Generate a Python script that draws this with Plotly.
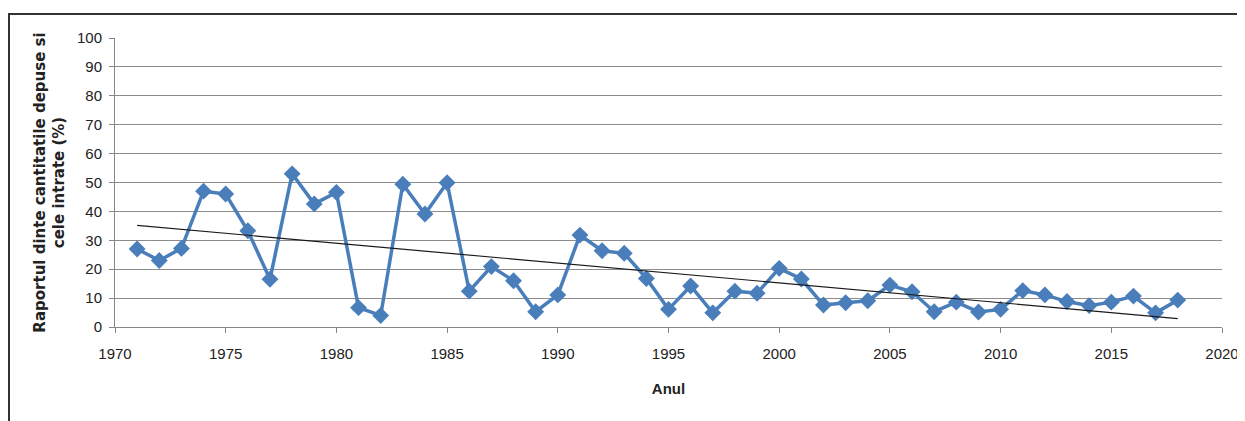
import numpy as np
import plotly.graph_objects as go

years = list(range(1971, 2019))
values = [27, 23, 27.2, 47, 46, 33.3, 16.5, 53, 42.6, 46.6, 6.7, 4,
          49.4, 39.1, 49.9, 12.4, 20.9, 16, 5.3, 11.1, 31.8, 26.4, 25.5, 16.8,
          6.1, 14.2, 4.9, 12.4, 11.7, 20.3, 16.6, 7.6, 8.4, 9.1, 14.5, 12.2,
          5.3, 8.6, 5.2, 6.1, 12.6, 11.1, 8.8, 7.4, 8.6, 10.7, 4.9, 9.3]

x_ticks = list(range(1970, 2021, 5))
y_ticks = list(range(0, 101, 10))

# Linear trendline computed from the series
slope, intercept = np.polyfit(years, values, 1)
trend_x = [years[0], years[-1]]
trend_y = [slope * x + intercept for x in trend_x]

fig = go.Figure()
fig.add_trace(go.Scatter(
    x=years, y=values, mode="lines+markers",
    line=dict(color="#4A7EBB", width=3.5),
    marker=dict(symbol="diamond", size=13, color="#4A7EBB"),
    showlegend=False, cliponaxis=False,
))
fig.add_trace(go.Scatter(
    x=trend_x, y=trend_y, mode="lines",
    line=dict(color="#1a1a1a", width=1.2),
    showlegend=False,
))

tick_font = dict(family="Liberation Sans, Arial", size=15, color="#222")

W, H = 1237, 413
ML, MR, MT, MB = 107, 23, 30, 94
PW, PH = W - ML - MR, H - MT - MB

fig.update_layout(
    width=W, height=H,
    margin=dict(l=ML, r=MR, t=MT, b=MB),
    paper_bgcolor="white", plot_bgcolor="white",
    xaxis=dict(
        range=[1970, 2020], tickvals=x_ticks, ticktext=[str(v) for v in x_ticks],
        showgrid=False, zeroline=False, automargin=False,
        showline=True, linecolor="#868686", linewidth=1,
        ticks="outside", ticklen=5, tickcolor="#868686",
        ticklabelstandoff=8,
        tickfont=tick_font,
        title=dict(text="<b>Anul</b>", font=dict(family="Liberation Sans, Arial", size=15, color="#222"), standoff=22),
    ),
    yaxis=dict(
        range=[0, 100], tickvals=y_ticks,
        showgrid=True, gridcolor="#8c8c8c", gridwidth=1,
        zeroline=False, automargin=False,
        showline=True, linecolor="#868686", linewidth=1,
        ticks="outside", ticklen=5, tickcolor="#868686",
        ticklabelstandoff=4,
        tickfont=tick_font,
        title=dict(text="<b>Raportul dinte cantitatile depuse si<br>cele intrate (%)</b>",
                   font=dict(family="DejaVu Sans, Verdana", size=15, color="#222"), standoff=8),
    ),
    shapes=[dict(type="rect", xref="paper", yref="paper",
                 x0=(1 - ML) / PW, x1=(W + 20 - ML) / PW,
                 y0=-1.0, y1=1 + 24 / PH,
                 line=dict(color="#333", width=2), fillcolor="rgba(0,0,0,0)", layer="below")],
)

fig.write_html("out.html")
